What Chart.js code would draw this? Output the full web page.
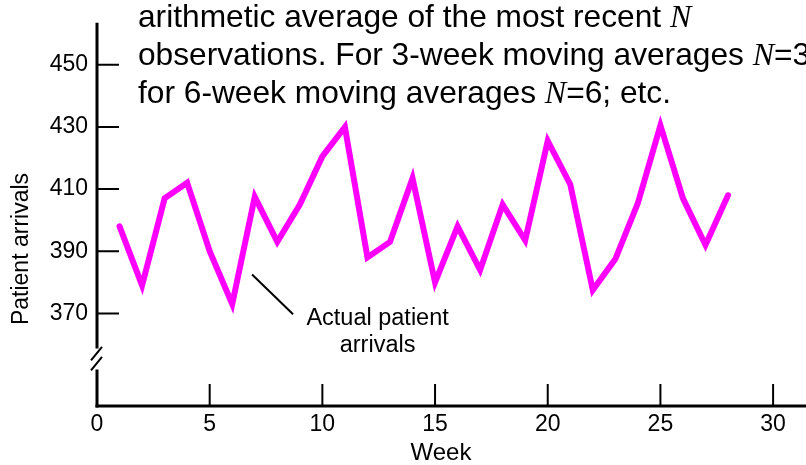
<!DOCTYPE html>
<html>
<head>
<meta charset="utf-8">
<script src="https://cdn.jsdelivr.net/npm/chart.js@4/dist/chart.umd.min.js"></script>
<style>
  html, body { margin: 0; padding: 0; background: #fff; }
  #wrap { width: 806px; height: 465px; position: relative; }
</style>
</head>
<body>
<div id="wrap"><canvas id="arrivalsChart"></canvas></div>
<script>
// Weekly patient arrivals
const weeks = [1, 2, 3, 4, 5, 6, 7, 8, 9, 10, 11, 12, 13, 14, 15, 16, 17, 18, 19, 20, 21, 22, 23, 24, 25, 26, 27, 28];
const arrivals = [398, 379, 407, 412, 390, 373, 407.5, 393, 405, 420.5, 430, 388, 393, 413.5, 380, 398, 384, 405, 393.5, 425.5, 411.5, 377.5, 387.5, 405.5, 430.5, 407, 392, 408];
const xTicks = [0, 5, 10, 15, 20, 25, 30];
const yTicks = [370, 390, 410, 430, 450];

// note text runs: [text, italic?]
const noteLines = [
  [['arithmetic average of the most recent ', false], ['N', true]],
  [['observations. For 3-week moving averages ', false], ['N', true], ['=3', false]],
  [['for 6-week moving averages ', false], ['N', true], ['=6; etc.', false]]
];

const SANS = '"Liberation Sans", Arial, sans-serif';
const SERIF = '"Liberation Serif", "Times New Roman", serif';

const axesPlugin = {
  id: 'axesPlugin',
  afterDraw(chart) {
    const ctx = chart.ctx;
    const area = chart.chartArea;
    const xs = chart.scales.x;
    const ys = chart.scales.y;
    const x0 = area.left;
    const y0 = area.bottom;
    ctx.save();
    ctx.strokeStyle = '#000';
    ctx.fillStyle = '#000';

    // y axis with a break near the bottom
    const breakY = ys.getPixelForValue(355.5);
    ctx.lineWidth = 3;
    ctx.beginPath();
    ctx.moveTo(x0, area.top);
    ctx.lineTo(x0, breakY - 10);
    ctx.moveTo(x0, breakY + 11);
    ctx.lineTo(x0, y0 + 1.5);
    ctx.stroke();
    ctx.lineWidth = 2;
    ctx.beginPath();
    [-5, 5].forEach(off => {
      ctx.moveTo(x0 - 6, breakY + off + 7);
      ctx.lineTo(x0 + 5, breakY + off - 6.5);
    });
    ctx.stroke();

    // x axis
    ctx.lineWidth = 3;
    ctx.beginPath();
    ctx.moveTo(x0 - 1.5, y0);
    ctx.lineTo(area.right, y0);
    ctx.stroke();

    // inward tick marks
    ctx.lineWidth = 2;
    ctx.beginPath();
    yTicks.forEach(v => {
      const py = ys.getPixelForValue(v);
      ctx.moveTo(x0, py);
      ctx.lineTo(x0 + 22, py);
    });
    xTicks.forEach(v => {
      if (v === 0) return;
      const px = xs.getPixelForValue(v);
      ctx.moveTo(px, y0);
      ctx.lineTo(px, y0 - 22);
    });
    ctx.stroke();

    // axis titles
    ctx.textAlign = 'center';
    ctx.textBaseline = 'middle';
    ctx.font = '24px ' + SANS;
    ctx.fillText('Week', 441, 453);
    ctx.font = '23px ' + SANS;
    ctx.save();
    ctx.translate(22, 249);
    ctx.rotate(-Math.PI / 2);
    ctx.fillText('Patient arrivals', 0, 0);
    ctx.restore();

    // callout for the series
    ctx.lineWidth = 2;
    ctx.beginPath();
    ctx.moveTo(xs.getPixelForValue(6.88), ys.getPixelForValue(382.5));
    ctx.lineTo(xs.getPixelForValue(8.7), ys.getPixelForValue(369.7));
    ctx.stroke();
    ctx.font = '23.5px ' + SANS;
    const cx = xs.getPixelForValue(12.45);
    ctx.fillText('Actual patient', cx, ys.getPixelForValue(368.3));
    ctx.fillText('arrivals', cx, ys.getPixelForValue(359.8));

    // explanatory note across the top
    ctx.textAlign = 'left';
    ctx.textBaseline = 'alphabetic';
    const baselines = [27, 65, 103];
    noteLines.forEach((runs, i) => {
      let x = 138;
      runs.forEach(([text, italic]) => {
        ctx.font = italic ? 'italic 32px ' + SERIF : '31.7px ' + SANS;
        ctx.fillText(text, x, baselines[i]);
        x += ctx.measureText(text).width;
      });
    });
    ctx.restore();
  }
};

const ctx = document.getElementById('arrivalsChart').getContext('2d');
new Chart(ctx, {
  type: 'line',
  data: {
    datasets: [{
      label: 'Actual patient arrivals',
      data: weeks.map((w, i) => ({ x: w, y: arrivals[i] })),
      borderColor: '#ff00ff',
      backgroundColor: '#ff00ff',
      borderWidth: 6,
      borderCapStyle: 'round',
      borderJoinStyle: 'miter',
      pointRadius: 0,
      tension: 0,
      fill: false
    }]
  },
  options: {
    responsive: true,
    maintainAspectRatio: false,
    animation: false,
    layout: { padding: { top: 13, right: 0, bottom: 0, left: 0 } },
    plugins: {
      legend: { display: false },
      tooltip: { enabled: false }
    },
    scales: {
      x: {
        type: 'linear',
        min: 0,
        max: 31.46,
        afterBuildTicks: s => { s.ticks = xTicks.map(v => ({ value: v })); },
        afterFit: s => { s.height = 59; },
        grid: { display: false, drawTicks: false },
        border: { display: false },
        ticks: {
          color: '#000',
          font: { family: SANS, size: 23 },
          padding: 5,
          maxRotation: 0,
          autoSkip: false
        }
      },
      y: {
        type: 'linear',
        min: 340.2,
        max: 463.5,
        afterBuildTicks: s => { s.ticks = yTicks.map(v => ({ value: v })); },
        afterFit: s => { s.width = 97; },
        grid: { display: false, drawTicks: false },
        border: { display: false },
        ticks: {
          color: '#000',
          font: { family: SANS, size: 23 },
          padding: 9,
          autoSkip: false
        }
      }
    }
  },
  plugins: [axesPlugin]
});
</script>
</body>
</html>
